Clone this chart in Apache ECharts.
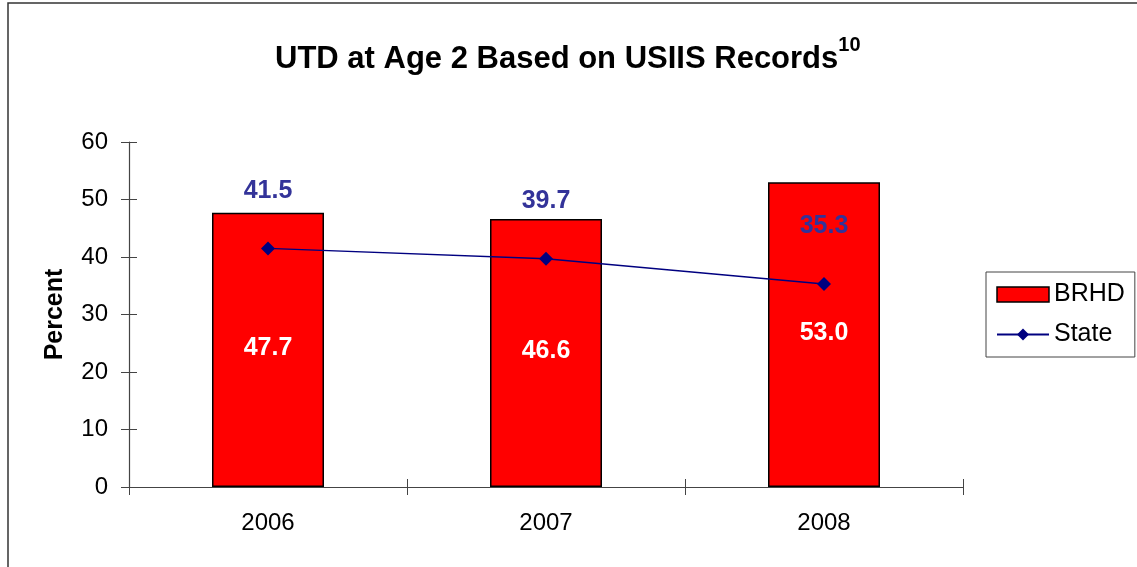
<!DOCTYPE html>
<html>
<head>
<meta charset="utf-8">
<script src="https://cdn.jsdelivr.net/npm/echarts@6/dist/echarts.min.js"></script>
<style>
  html, body { margin: 0; padding: 0; background: #fff; }
  #chart { width: 1137px; height: 567px; }
</style>
</head>
<body>
<div id="chart"></div>
<script>
// data
const years = ["2006", "2007", "2008"];
const brhdValues = [47.7, 46.6, 53.0];
const stateValues = [41.5, 39.7, 35.3];
const yMin = 0, yMax = 60, yStep = 10;

const font = "Arial, 'Liberation Sans', sans-serif";
const axisGray = "#444";

const myChart = echarts.init(document.getElementById("chart"));

const option = {
  backgroundColor: "#fff",
  animation: false,
  textStyle: { fontFamily: font },
  graphic: [
    {
      // outer frame of the chart area (runs off the right and bottom)
      type: "rect",
      shape: { x: 8, y: 3, width: 1300, height: 800 },
      style: { fill: "none", stroke: "#333", lineWidth: 1.5 },
      silent: true
    }
  ],
  title: {
    text: "{main|UTD at Age 2 Based on USIIS Records}{sup|10}",
    left: 270,
    top: 30,
    textStyle: {
      rich: {
        main: { fontFamily: font, fontSize: 31, fontWeight: "bold", color: "#000", verticalAlign: "bottom", lineHeight: 40 },
        sup: { fontFamily: font, fontSize: 20, fontWeight: "bold", color: "#000", verticalAlign: "top", lineHeight: 40, padding: [0, 0, 16, 0] }
      }
    }
  },
  legend: {
    orient: "vertical",
    left: 986,
    top: 272,
    padding: [10, 10, 10, 10],
    itemGap: 15,
    itemWidth: 52,
    itemHeight: 15,
    borderColor: "#444",
    borderWidth: 1,
    textStyle: { fontFamily: font, fontSize: 25, color: "#000", padding: [0, 0, 0, 0] },
    data: [
      { name: "BRHD", icon: "rect", itemStyle: { borderColor: "#000", borderWidth: 1.5 } },
      { name: "State" }
    ]
  },
  grid: { left: 129, top: 142, width: 834, height: 345, containLabel: false },
  xAxis: [
    {
      type: "category",
      data: years,
      axisLine: { lineStyle: { color: axisGray, width: 1.2 } },
      axisTick: { show: true, length: 8, alignWithLabel: false, lineStyle: { color: axisGray } },
      axisLabel: { fontFamily: font, fontSize: 24, color: "#000", margin: 24 }
    },
    {
      type: "category",
      data: years,
      position: "bottom",
      axisLine: { show: false },
      axisTick: { show: true, inside: true, length: 8, lineStyle: { color: axisGray } },
      axisLabel: { show: false }
    }
  ],
  yAxis: [
    {
      type: "value",
      min: yMin,
      max: yMax,
      interval: yStep,
      name: "Percent",
      nameLocation: "middle",
      nameGap: 61,
      nameTextStyle: { fontFamily: font, fontSize: 25, fontWeight: "bold", color: "#000" },
      splitLine: { show: false },
      axisLine: { show: true, lineStyle: { color: axisGray, width: 1.2 } },
      axisTick: { show: true, length: 8, lineStyle: { color: axisGray } },
      axisLabel: { fontFamily: font, fontSize: 24, color: "#000", margin: 21 }
    },
    {
      type: "value",
      min: yMin,
      max: yMax,
      interval: yStep,
      position: "left",
      splitLine: { show: false },
      axisLine: { show: false },
      axisTick: { show: true, inside: true, length: 8, lineStyle: { color: axisGray } },
      axisLabel: { show: false }
    }
  ],
  series: [
    {
      name: "BRHD",
      type: "bar",
      barWidth: 112,
      data: brhdValues,
      itemStyle: { color: "#ff0000", borderColor: "#000", borderWidth: 1.5 },
      label: {
        show: true,
        position: "inside",
        offset: [0, -2],
        formatter: p => p.value.toFixed(1),
        fontFamily: font,
        fontSize: 25,
        fontWeight: "bold",
        color: "#fff"
      },
      z: 2
    },
    {
      name: "State",
      type: "line",
      data: stateValues,
      symbol: "diamond",
      symbolSize: 14,
      color: "#000080",
      lineStyle: { color: "#000080", width: 1.5 },
      itemStyle: { color: "#000080" },
      label: {
        show: true,
        position: "top",
        distance: 38,
        formatter: p => p.value.toFixed(1),
        fontFamily: font,
        fontSize: 25,
        fontWeight: "bold",
        color: "#333399"
      },
      z: 3
    }
  ]
};

myChart.setOption(option);
</script>
</body>
</html>
